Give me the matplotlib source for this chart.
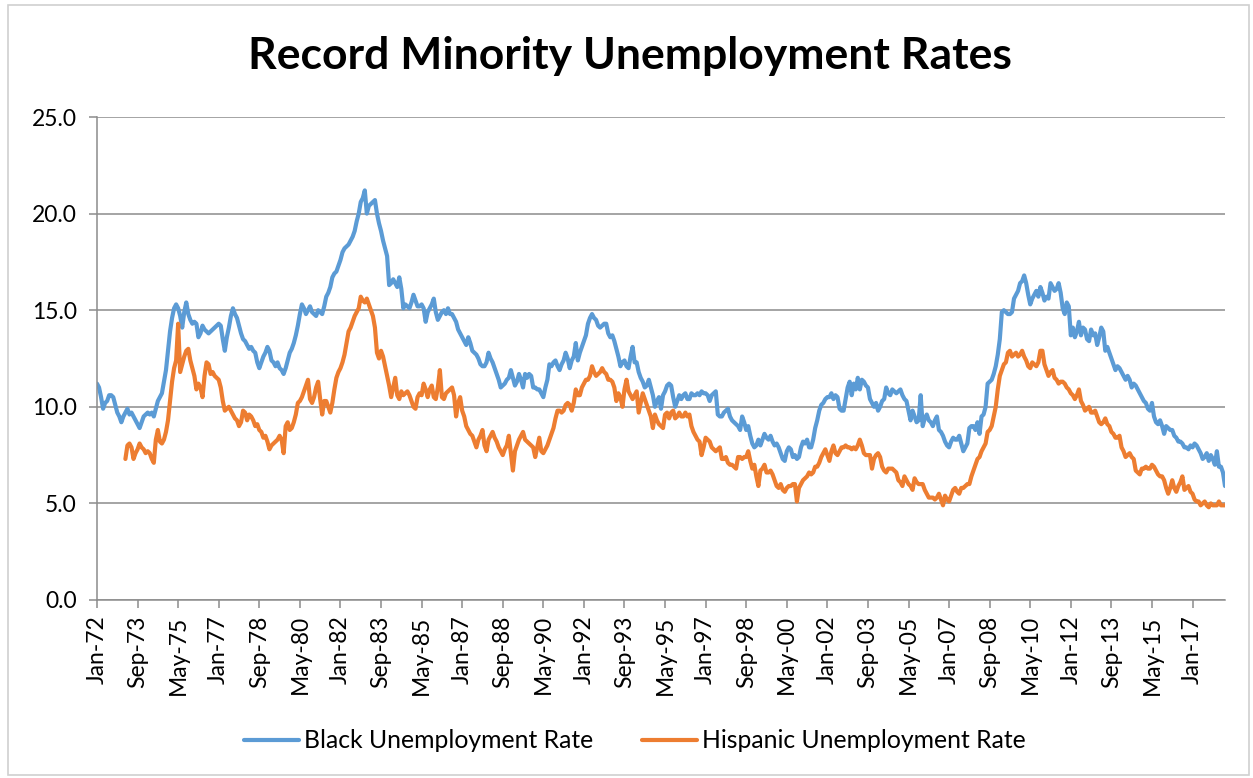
import matplotlib
matplotlib.use("Agg")
import matplotlib.pyplot as plt
import numpy as np
import pandas as pd
from matplotlib.patches import Rectangle

# Monthly unemployment rates (%), seasonally adjusted
first_month = "1972-01-01"
black_rate = [
    11.2, 11.0, 10.5, 9.9, 10.2, 10.3, 10.6, 10.6, 10.5, 10.1, 9.7, 9.5,   # 1972
    9.2, 9.5, 9.7, 9.9, 9.6, 9.7, 9.5, 9.3, 9.1, 8.9, 9.2, 9.5,            # 1973
    9.6, 9.7, 9.6, 9.7, 9.5, 9.9, 10.3, 10.5, 10.7, 11.3, 11.9, 12.9,      # 1974
    13.9, 14.6, 15.1, 15.3, 15.1, 14.7, 14.1, 14.9, 15.4, 14.8, 14.5, 14.3,  # 1975
    14.4, 14.3, 13.6, 13.8, 14.2, 14.0, 13.9, 13.8, 13.9, 14.0, 14.1, 14.2,  # 1976
    14.3, 14.2, 13.5, 12.9, 13.6, 14.1, 14.7, 15.1, 14.8, 14.6, 14.2, 13.8,  # 1977
    13.5, 13.4, 13.2, 13.0, 13.1, 12.9, 12.8, 12.3, 12.0, 12.3, 12.6, 12.8,  # 1978
    13.1, 12.9, 12.4, 12.3, 12.1, 12.3, 12.0, 11.9, 11.7, 12.0, 12.4, 12.8,  # 1979
    13.0, 13.3, 13.7, 14.2, 14.8, 15.3, 15.1, 14.8, 15.0, 15.2, 14.9, 14.8,  # 1980
    14.7, 15.0, 14.9, 14.8, 15.2, 15.7, 15.9, 16.2, 16.7, 16.9, 17.0, 17.3,  # 1981
    17.6, 18.0, 18.2, 18.3, 18.4, 18.6, 18.8, 19.1, 19.6, 20.0, 20.6, 20.8,  # 1982
    21.2, 20.0, 20.4, 20.5, 20.6, 20.7, 20.0, 19.5, 19.1, 18.6, 18.2, 17.8,  # 1983
    16.3, 16.4, 16.6, 16.4, 16.2, 16.7, 16.1, 15.1, 15.3, 15.2, 15.1, 15.4,  # 1984
    15.8, 15.5, 15.2, 15.2, 15.3, 15.1, 14.4, 14.9, 15.1, 15.3, 15.6, 14.9,  # 1985
    14.5, 14.7, 14.9, 15.0, 14.8, 15.1, 14.8, 14.8, 14.6, 14.4, 14.0, 13.8,  # 1986
    13.6, 13.4, 13.2, 13.6, 13.3, 12.9, 12.8, 12.7, 12.5, 12.2, 12.1, 12.1,  # 1987
    12.3, 12.8, 12.5, 12.3, 12.0, 11.7, 11.4, 11.0, 11.1, 11.2, 11.4, 11.5,  # 1988
    11.9, 11.5, 11.1, 11.3, 11.7, 11.4, 11.0, 11.7, 11.5, 11.7, 11.6, 11.0,  # 1989
    11.0, 10.9, 10.9, 10.7, 10.5, 11.0, 11.4, 12.2, 12.1, 12.3, 12.4, 12.1,  # 1990
    11.9, 12.2, 12.4, 12.8, 12.5, 12.0, 12.4, 12.6, 13.3, 12.4, 12.8, 13.1,  # 1991
    13.4, 13.7, 14.3, 14.6, 14.8, 14.6, 14.5, 14.2, 14.1, 14.2, 14.3, 14.3,  # 1992
    13.8, 13.6, 13.7, 13.4, 13.0, 12.6, 12.1, 12.3, 12.4, 12.1, 12.0, 12.6,  # 1993
    13.1, 12.3, 12.3, 11.8, 11.5, 11.3, 11.0, 11.1, 11.4, 11.0, 10.6, 10.0,  # 1994
    10.3, 10.5, 9.9, 10.6, 10.8, 11.1, 11.2, 11.1, 10.5, 10.0, 10.3, 10.6,   # 1995
    10.4, 10.6, 10.7, 10.4, 10.4, 10.7, 10.6, 10.6, 10.7, 10.6, 10.8, 10.7,  # 1996
    10.7, 10.6, 10.3, 10.6, 10.7, 10.8, 9.6, 9.5, 9.5, 9.7, 9.8, 9.9,        # 1997
    9.5, 9.3, 9.2, 9.1, 9.0, 8.8, 9.5, 9.2, 8.8, 9.0, 8.5, 8.1,              # 1998
    7.9, 8.0, 8.3, 8.0, 8.3, 8.6, 8.4, 8.3, 8.5, 8.2, 8.0, 8.1,              # 1999
    7.9, 7.6, 7.3, 7.2, 7.7, 7.9, 7.8, 7.4, 7.5, 7.3, 7.4, 7.9,              # 2000
    8.2, 8.1, 8.3, 7.9, 7.9, 8.3, 8.9, 9.3, 9.8, 10.1, 10.2, 10.4,           # 2001
    10.5, 10.5, 10.7, 10.4, 10.6, 10.5, 9.9, 9.8, 9.8, 10.4, 11.0, 11.3,     # 2002
    10.6, 11.2, 10.9, 11.5, 10.9, 11.4, 11.3, 11.1, 11.0, 10.4, 10.2, 10.0,  # 2003
    10.2, 9.8, 10.0, 10.3, 10.4, 11.0, 10.7, 10.6, 10.9, 10.8, 10.7, 10.8,   # 2004
    10.9, 10.6, 10.4, 10.3, 9.8, 9.3, 9.8, 9.5, 9.2, 9.3, 10.6, 9.0,         # 2005
    9.4, 9.6, 9.3, 9.2, 9.0, 9.3, 9.5, 8.8, 8.7, 8.5, 8.2, 8.0,              # 2006
    7.9, 8.2, 8.4, 8.3, 8.3, 8.5, 8.1, 7.7, 7.9, 8.1, 8.9, 9.0,              # 2007
    9.0, 8.8, 9.2, 8.6, 9.5, 9.6, 10.0, 11.2, 11.3, 11.4, 11.7, 12.1,        # 2008
    12.7, 13.5, 14.9, 15.0, 14.9, 14.8, 14.8, 14.9, 15.6, 15.8, 16.0, 16.4,  # 2009
    16.5, 16.8, 16.4, 15.8, 15.3, 15.6, 15.8, 16.0, 15.7, 16.2, 15.9, 15.5,  # 2010
    15.7, 15.6, 16.4, 16.2, 16.0, 16.1, 16.4, 15.9, 15.1, 14.8, 15.4, 15.2,  # 2011
    13.7, 14.1, 13.6, 13.9, 14.4, 13.7, 14.1, 14.0, 13.5, 13.4, 14.0, 13.7,  # 2012
    13.8, 13.2, 13.6, 14.1, 13.9, 12.9, 13.1, 12.8, 12.5, 12.2, 11.9, 12.1,  # 2013
    12.0, 11.8, 11.6, 11.4, 11.6, 11.4, 11.0, 11.2, 11.1, 10.9, 10.7, 10.5,  # 2014
    10.3, 10.2, 9.9, 9.8, 10.2, 9.5, 9.2, 9.1, 9.3, 9.0, 8.6, 9.0,           # 2015
    8.9, 8.8, 8.8, 8.5, 8.4, 8.2, 8.2, 8.1, 7.9, 7.9, 7.8, 8.0,              # 2016
    7.9, 8.1, 8.0, 7.8, 7.6, 7.3, 7.4, 7.6, 7.2, 7.5, 7.3, 7.0,              # 2017
    7.7, 6.9, 6.9, 6.6, 5.9,                                                 # 2018
]

hispanic_first_month = "1973-03-01"
hispanic_rate = [
    7.3, 8.0, 8.1, 7.9, 7.3, 7.6, 7.8, 8.1, 7.9, 7.8,                        # 1973
    7.6, 7.7, 7.6, 7.3, 7.1, 8.3, 8.8, 8.2, 8.1, 8.3, 8.7, 9.3,              # 1974
    10.3, 11.3, 12.0, 12.4, 14.3, 11.8, 12.2, 12.6, 12.9, 13.0, 12.4, 12.0,  # 1975
    11.6, 10.9, 11.2, 11.0, 10.5, 11.6, 12.3, 12.2, 11.7, 11.8, 11.6, 11.5,  # 1976
    11.4, 11.0, 10.3, 9.8, 9.9, 10.0, 9.8, 9.6, 9.4, 9.3, 9.0, 9.2,          # 1977
    9.8, 9.7, 9.3, 9.6, 9.5, 9.3, 9.0, 9.1, 8.8, 8.7, 8.4, 8.5,              # 1978
    8.2, 7.8, 8.0, 8.1, 8.2, 8.3, 8.5, 8.3, 7.6, 9.0, 9.2, 8.8,              # 1979
    8.9, 9.2, 9.6, 10.2, 10.3, 10.5, 10.8, 11.1, 11.4, 10.4, 10.2, 10.5,     # 1980
    11.0, 11.3, 10.4, 9.6, 10.3, 10.3, 10.0, 9.7, 10.2, 10.9, 11.5, 11.8,    # 1981
    12.0, 12.3, 12.7, 13.3, 13.9, 14.1, 14.4, 14.7, 14.9, 15.1, 15.7, 15.5,  # 1982
    15.4, 15.6, 15.3, 15.0, 14.7, 14.1, 12.8, 12.5, 12.9, 12.6, 12.1, 11.6,  # 1983
    11.1, 10.5, 11.0, 11.5, 10.6, 10.4, 10.8, 10.6, 10.7, 10.8, 10.6, 10.3,  # 1984
    10.0, 9.9, 10.5, 10.7, 10.6, 11.2, 10.9, 10.5, 10.9, 11.1, 10.5, 10.4,   # 1985
    11.0, 11.9, 10.5, 10.4, 10.7, 10.8, 10.9, 11.0, 10.6, 9.5, 10.2, 10.5,   # 1986
    9.8, 9.5, 9.0, 8.8, 8.6, 8.5, 8.2, 7.9, 8.3, 8.5, 8.8, 8.0,              # 1987
    7.7, 8.3, 8.5, 8.7, 8.4, 8.2, 7.9, 7.7, 7.5, 7.8, 8.0, 8.5,              # 1988
    7.6, 6.7, 7.7, 8.0, 8.3, 8.5, 8.7, 8.3, 8.2, 8.1, 8.0, 7.9,              # 1989
    7.4, 7.9, 8.4, 7.7, 7.6, 7.8, 8.0, 8.3, 8.6, 8.9, 9.4, 9.8,              # 1990
    9.8, 9.7, 9.8, 10.1, 10.2, 10.1, 9.8, 10.2, 10.9, 10.6, 10.6, 11.0,      # 1991
    11.2, 11.4, 11.4, 11.6, 12.1, 11.8, 11.6, 11.7, 11.8, 12.0, 11.8, 11.7,  # 1992
    11.4, 11.4, 11.3, 11.0, 10.3, 10.7, 10.5, 10.0, 10.9, 11.4, 10.8, 10.6,  # 1993
    10.4, 10.6, 10.8, 9.7, 10.2, 10.7, 10.4, 10.1, 9.8, 9.5, 8.9, 9.6,       # 1994
    9.3, 9.1, 9.0, 8.9, 9.6, 9.7, 9.4, 9.7, 9.8, 9.4, 9.5, 9.7,              # 1995
    9.5, 9.5, 9.7, 9.5, 9.6, 9.0, 8.7, 8.5, 8.3, 8.2, 7.5, 7.9,              # 1996
    8.4, 8.3, 8.2, 7.9, 7.8, 7.7, 7.8, 7.9, 7.3, 7.3, 7.4, 7.1,              # 1997
    7.0, 7.0, 6.9, 6.8, 7.4, 7.4, 7.3, 7.4, 7.4, 7.7, 7.2, 6.8,              # 1998
    7.0, 6.4, 5.9, 6.7, 6.8, 7.0, 6.6, 6.6, 6.7, 6.5, 6.2, 5.9,              # 1999
    5.8, 6.0, 5.7, 5.6, 5.8, 5.9, 5.9, 6.0, 6.0, 5.1, 5.8, 6.0,              # 2000
    6.2, 6.3, 6.4, 6.6, 6.5, 6.6, 6.9, 6.9, 7.1, 7.4, 7.6, 7.8,              # 2001
    7.5, 7.2, 7.7, 8.0, 7.6, 7.5, 7.7, 7.9, 7.9, 8.0, 7.9, 7.9,              # 2002
    7.8, 7.9, 7.8, 8.0, 8.3, 8.0, 7.6, 7.5, 7.5, 7.5, 6.8, 7.3,              # 2003
    7.5, 7.6, 7.4, 6.9, 6.7, 6.6, 6.8, 6.8, 6.8, 6.7, 6.6, 6.2,              # 2004
    6.1, 5.9, 6.4, 6.2, 6.0, 5.9, 5.7, 6.3, 6.1, 6.0, 6.0, 6.0,              # 2005
    5.7, 5.5, 5.3, 5.3, 5.3, 5.2, 5.3, 5.5, 5.2, 4.9, 5.4, 5.2,              # 2006
    5.1, 5.4, 5.7, 5.8, 5.6, 5.5, 5.8, 5.8, 5.9, 6.0, 6.0, 6.4,              # 2007
    6.7, 7.0, 7.3, 7.4, 7.7, 7.9, 8.1, 8.7, 8.8, 9.0, 9.5, 10.0,             # 2008
    10.9, 11.6, 11.9, 12.2, 12.3, 12.8, 12.9, 12.6, 12.7, 12.8, 12.6, 12.7,  # 2009
    12.9, 12.6, 12.4, 12.1, 12.0, 12.3, 12.2, 12.1, 12.3, 12.9, 12.9, 12.2,  # 2010
    11.9, 11.6, 11.8, 11.9, 11.5, 11.4, 11.2, 11.3, 11.3, 11.2, 11.0, 10.9,  # 2011
    10.7, 10.6, 10.4, 10.6, 10.9, 10.3, 10.1, 9.8, 9.9, 10.0, 9.7, 9.7,      # 2012
    9.8, 9.5, 9.2, 9.1, 9.2, 9.4, 9.1, 9.0, 8.7, 8.6, 8.4, 8.4,              # 2013
    8.5, 7.9, 7.7, 7.4, 7.5, 7.6, 7.4, 7.3, 6.7, 6.6, 6.5, 6.8,              # 2014
    6.8, 6.9, 6.8, 6.8, 7.0, 6.9, 6.7, 6.5, 6.4, 6.4, 6.2, 5.8,              # 2015
    5.5, 5.8, 6.2, 5.8, 5.6, 5.9, 6.1, 6.4, 5.7, 5.8, 5.9, 5.6,              # 2016
    5.5, 5.2, 5.1, 5.1, 4.9, 5.0, 5.1, 4.9, 4.8, 5.0, 4.9, 4.9,              # 2017
    4.9, 5.1, 4.9, 4.9, 4.9,                                                 # 2018
]

months = pd.date_range(first_month, periods=len(black_rate), freq="MS")
black = pd.Series(black_rate, index=months)
hispanic = pd.Series(
    hispanic_rate,
    index=pd.date_range(hispanic_first_month, periods=len(hispanic_rate), freq="MS"),
).reindex(months)

BLUE = "#5B9BD5"
ORANGE = "#ED7D31"
GRID = "#8c8c8c"
FONT = "Lato"

plt.rcParams["font.family"] = [FONT, "DejaVu Sans"]

fig = plt.figure(figsize=(12.53, 7.78), dpi=100)
ax = fig.add_axes([97 / 1253, 1 - 600 / 778, (1225 - 97) / 1253, (600 - 117) / 778])

# chart area border
fig.patches.append(Rectangle((8 / 1253, 3 / 778), 1241 / 1253, 770 / 778,
                             transform=fig.transFigure, fill=False,
                             edgecolor="#d0d0d0", linewidth=1.2))

pos = np.arange(len(months))
ax.plot(pos, black.values, color=BLUE, linewidth=3.0, label="Black Unemployment Rate",
        solid_joinstyle="round", solid_capstyle="round")
ax.plot(pos, hispanic.values, color=ORANGE, linewidth=3.0, label="Hispanic Unemployment Rate",
        solid_joinstyle="round", solid_capstyle="round")

ax.set_xlim(0, len(months) - 1)
ax.set_ylim(0, 25)
ax.set_yticks(np.arange(0, 25.1, 5))
ax.yaxis.set_major_formatter(matplotlib.ticker.FormatStrFormatter("%.1f"))
ax.grid(axis="y", color=GRID, linewidth=1.1)
ax.set_axisbelow(True)

tick_pos = pos[::20]
ax.set_xticks(tick_pos)
ax.set_xticklabels(months[::20].strftime("%b-%y"), rotation=90)

for side in ("top", "right"):
    ax.spines[side].set_visible(False)
for side in ("left", "bottom"):
    ax.spines[side].set_color(GRID)
    ax.spines[side].set_linewidth(1.1)
ax.tick_params(axis="both", colors=GRID, labelcolor="black", labelsize=16.5,
               length=6, width=1.1)
ax.tick_params(axis="y", pad=8.5)
ax.tick_params(axis="x", pad=5)

fig.text(630 / 1253, 1 - 56 / 778, "Record Minority Unemployment Rates",
         ha="center", va="center", fontsize=32, fontweight="bold", family=FONT)

fig.legend(loc="center", bbox_to_anchor=(635 / 1253, 1 - 741 / 778), ncol=2,
           frameon=False, fontsize=17.8, handlelength=2.2, handletextpad=0.2,
           columnspacing=2.0)

fig.savefig("out.png", dpi=100)
